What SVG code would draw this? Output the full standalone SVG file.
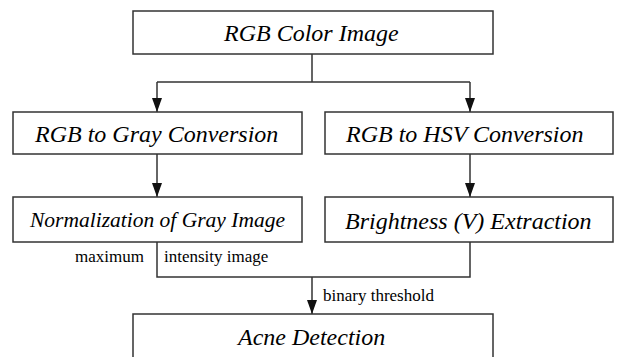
<svg xmlns="http://www.w3.org/2000/svg" width="618" height="357" viewBox="0 0 618 357">
  <defs>
    <marker id="arrow" markerUnits="userSpaceOnUse" markerWidth="14" markerHeight="10" viewBox="0 0 14 10" refX="14" refY="5" orient="auto">
      <path d="M0,0 L14,5 L0,10 Z" fill="#111111"/>
    </marker>
  </defs>
  <rect width="618" height="357" fill="#ffffff"/>

  <!-- connectors and their labels -->
  <g id="connectors">
    <g fill="none" stroke="#333333" stroke-width="1.5">
      <path d="M312,54 V82 M157,82 H470"/>
      <path d="M157,82 V112" marker-end="url(#arrow)"/>
      <path d="M470,82 V112" marker-end="url(#arrow)"/>
      <path d="M157,154 V197" marker-end="url(#arrow)"/>
      <path d="M470,154 V197" marker-end="url(#arrow)"/>
      <path d="M157,242 V277 H470 V242"/>
      <path d="M312,277 V314" marker-end="url(#arrow)"/>
    </g>
    <text x="75" y="262" font-family="Liberation Serif" font-size="17">maximum</text>
    <text x="164" y="262" font-family="Liberation Serif" font-size="17">intensity  image</text>
    <text x="323" y="301" font-family="Liberation Serif" font-size="17">binary  threshold</text>
  </g>

  <!-- process boxes -->
  <g id="rgb-color-image">
    <rect x="133" y="11" width="360" height="43" fill="#ffffff" stroke="#333333" stroke-width="1.5"/>
    <text x="224" y="41" font-family="Liberation Serif" font-size="24" font-style="italic">RGB Color Image</text>
  </g>

  <g id="rgb-to-gray">
    <rect x="13" y="112" width="289" height="42" fill="#ffffff" stroke="#333333" stroke-width="1.5"/>
    <text x="35" y="142" font-family="Liberation Serif" font-size="24" font-style="italic">RGB to Gray Conversion</text>
  </g>

  <g id="rgb-to-hsv">
    <rect x="325" y="112" width="288" height="42" fill="#ffffff" stroke="#333333" stroke-width="1.5"/>
    <text x="346" y="142" font-family="Liberation Serif" font-size="24" font-style="italic">RGB to HSV Conversion</text>
  </g>

  <g id="gray-normalization">
    <rect x="13" y="197" width="289" height="45" fill="#ffffff" stroke="#333333" stroke-width="1.5"/>
    <text x="30" y="227" font-family="Liberation Serif" font-size="21.5" font-style="italic">Normalization of Gray Image</text>
  </g>

  <g id="brightness-extraction">
    <rect x="325" y="197" width="288" height="45" fill="#ffffff" stroke="#333333" stroke-width="1.5"/>
    <text x="345" y="229" font-family="Liberation Serif" font-size="24" font-style="italic">Brightness (V) Extraction</text>
  </g>

  <g id="acne-detection">
    <rect x="133" y="314" width="360" height="50" fill="#ffffff" stroke="#333333" stroke-width="1.5"/>
    <text x="238" y="345" font-family="Liberation Serif" font-size="24" font-style="italic">Acne Detection</text>
  </g>
</svg>
